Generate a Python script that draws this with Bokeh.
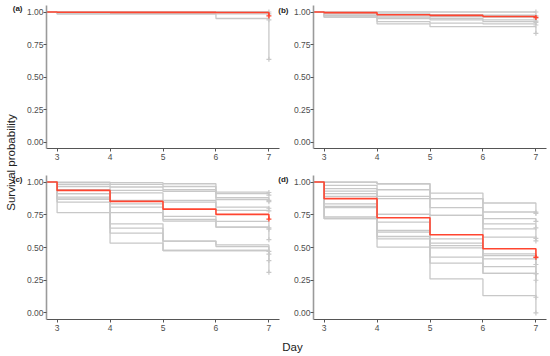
import numpy as np
from bokeh.plotting import figure
from bokeh.layouts import row, column
from bokeh.models import Range1d, FixedTicker, NumeralTickFormatter, Label
from bokeh.embed import file_html
from bokeh.resources import INLINE

# ---------------- data ----------------
days = [3, 4, 5, 6, 7]
y_ticks = [0.0, 0.25, 0.5, 0.75, 1.0]

a_overall = [0.998, 0.997, 0.997, 0.996, 0.970]
a_groups = [
    [1.000, 1.000, 1.000, 1.000, 1.000],
    [0.985, 0.985, 0.985, 0.950, 0.940],
    [1.000, 1.000, 1.000, 1.000, 0.636],
    [0.985, 0.985, 0.985, 0.985, 0.985],
]

b_overall = [0.995, 0.979, 0.974, 0.965, 0.958]
b_groups = [
    [1.000, 1.000, 1.000, 1.000, 1.000],
    [0.990, 0.985, 0.980, 0.975, 0.970],
    [0.975, 0.970, 0.965, 0.960, 0.955],
    [0.960, 0.926, 0.915, 0.908, 0.900],
    [0.960, 0.908, 0.887, 0.887, 0.836],
    [0.985, 0.960, 0.950, 0.926, 0.920],
    [0.970, 0.950, 0.940, 0.940, 0.930],
]

c_overall = [0.936, 0.852, 0.793, 0.753, 0.717]
c_groups = [
    [1.000, 0.995, 0.987, 0.923, 0.920],
    [0.995, 0.982, 0.966, 0.911, 0.900],
    [0.982, 0.962, 0.941, 0.880, 0.860],
    [0.966, 0.936, 0.928, 0.865, 0.850],
    [0.941, 0.918, 0.860, 0.809, 0.800],
    [0.911, 0.860, 0.847, 0.783, 0.780],
    [0.885, 0.834, 0.737, 0.699, 0.650],
    [0.870, 0.809, 0.714, 0.655, 0.560],
    [0.847, 0.766, 0.702, 0.655, 0.640],
    [0.766, 0.681, 0.549, 0.520, 0.400],
    [0.941, 0.648, 0.549, 0.507, 0.310],
    [0.911, 0.610, 0.477, 0.477, 0.470],
    [0.870, 0.533, 0.477, 0.477, 0.450],
]

d_overall = [0.873, 0.727, 0.597, 0.490, 0.426]
d_groups = [
    [1.000, 0.987, 0.916, 0.840, 0.770],
    [0.975, 0.941, 0.873, 0.771, 0.760],
    [0.949, 0.890, 0.804, 0.720, 0.700],
    [0.931, 0.873, 0.745, 0.681, 0.650],
    [0.911, 0.753, 0.745, 0.643, 0.570],
    [0.834, 0.694, 0.566, 0.451, 0.370],
    [0.814, 0.630, 0.533, 0.438, 0.420],
    [0.804, 0.617, 0.515, 0.413, 0.300],
    [0.733, 0.584, 0.497, 0.354, 0.250],
    [0.720, 0.566, 0.426, 0.303, 0.300],
    [0.720, 0.503, 0.380, 0.303, 0.120],
    [0.890, 0.753, 0.260, 0.132, 0.000],
    [1.000, 0.987, 0.873, 0.579, 0.550],
]

panel_tags = ["(a)", "(b)", "(c)", "(d)"]
x_title = "Day"
y_title = "Survival probability"

# ---------------- style ----------------
GREY = "#c8c8c8"
RED = "#ff4530"
FONT = "Liberation Sans"
TICK_COLOR = "#4d4d4d"

X_LO, X_HI = 2.8, 7.2          # visible day axis
FRAME_W = 233                   # px for X_LO..X_HI
EXTRA_W = 11                    # extra frame px on left panels (room for right-hand tags)
TOP_H, BOT_H, DAY_H, LEFT_W, AX_W = 168, 170, 18, 23, 23


def tag_label(text, x, y, x_units, y_units, align):
    return Label(x=x, y=y, x_units=x_units, y_units=y_units, text=text, text_font=FONT,
                 text_font_size="8px", text_font_style="bold", text_color="#222222",
                 text_align=align, text_baseline="middle")


def make_panel(overall, groups, height, bt, bb, extra, right_border):
    x_hi = X_HI + (X_HI - X_LO) * extra / FRAME_W
    p = figure(width=AX_W + FRAME_W + extra + right_border, height=height,
               x_range=Range1d(X_LO, x_hi), y_range=Range1d(-0.05, 1.05),
               toolbar_location=None, output_backend="svg",
               min_border_left=AX_W, min_border_right=right_border,
               min_border_top=bt, min_border_bottom=bb)
    p.xgrid.visible = False
    p.ygrid.visible = False
    p.outline_line_color = None

    for g in groups:
        p.step([0] + days, [1.0] + g, mode="after", line_color=GREY, line_width=1.3)
    p.scatter([days[-1]] * len(groups), [g[-1] for g in groups], marker="cross",
              size=5, line_color=GREY, line_width=1.2)
    p.step([0] + days, [1.0] + overall, mode="after", line_color=RED, line_width=1.6)
    p.scatter([days[-1]], [overall[-1]], marker="cross", size=5, line_color=RED, line_width=1.4)

    p.xaxis.ticker = FixedTicker(ticks=days)
    p.xaxis.bounds = (X_LO, X_HI)
    p.yaxis.ticker = FixedTicker(ticks=y_ticks)
    p.yaxis.formatter = NumeralTickFormatter(format="0.00")
    for ax in (p.xaxis, p.yaxis):
        ax.minor_tick_line_color = None
        ax.major_tick_in = 0
        ax.major_tick_out = 3
        ax.major_label_text_font = FONT
        ax.major_label_text_font_size = "8.5px"
        ax.major_label_text_color = TICK_COLOR
        ax.major_tick_line_color = "#555555"
    p.xaxis.major_label_standoff = 2
    p.yaxis.major_label_standoff = 0
    p.yaxis.axis_line_color = "#9a9a9a"
    p.yaxis.axis_line_width = 1.6
    p.xaxis.axis_line_color = "#555555"
    p.xaxis.axis_line_width = 1
    return p


def blank(width, height):
    f = figure(width=width, height=height, toolbar_location=None, output_backend="svg",
               x_range=Range1d(0, 1), y_range=Range1d(0, 1), min_border=0)
    f.axis.visible = False
    f.grid.visible = False
    f.outline_line_color = None
    return f


pa = make_panel(a_overall, a_groups, TOP_H, 5, 20, EXTRA_W, 0)
pb = make_panel(b_overall, b_groups, TOP_H, 5, 20, 0, 4)
pc = make_panel(c_overall, c_groups, BOT_H, 7, 19, EXTRA_W, 0)
pd_ = make_panel(d_overall, d_groups, BOT_H, 7, 19, 0, 4)

# tags of the right-hand panels sit in the spare strip of the left panels
pa.add_layout(tag_label(panel_tags[1], FRAME_W + EXTRA_W - 2, 1.015, "screen", "data", "right"))
pc.add_layout(tag_label(panel_tags[3], FRAME_W + EXTRA_W - 2, 1.018, "screen", "data", "right"))

# left strip: shared y title and the tags of the left panels
H2 = TOP_H + BOT_H
left = blank(LEFT_W, H2)
left.add_layout(Label(x=10, y=H2 - 162, x_units="screen", y_units="screen",
                      text=y_title, angle=np.pi / 2, text_font=FONT, text_font_size="11.5px",
                      text_color="#222222", text_align="center", text_baseline="middle"))
left.add_layout(tag_label(panel_tags[0], LEFT_W - 1, H2 - 8, "screen", "screen", "right"))
left.add_layout(tag_label(panel_tags[2], LEFT_W - 1, H2 - 179, "screen", "screen", "right"))

# bottom strip with the shared x title
bottom = blank(550, DAY_H)
bottom.add_layout(Label(x=292, y=DAY_H - 8, x_units="screen", y_units="screen",
                        text=x_title, text_font=FONT, text_font_size="11.5px",
                        text_color="#222222", text_align="center", text_baseline="middle"))

layout = column(row(left, column(row(pa, pb), row(pc, pd_))), bottom)

open("out.html", "w").write(file_html(layout, INLINE))
